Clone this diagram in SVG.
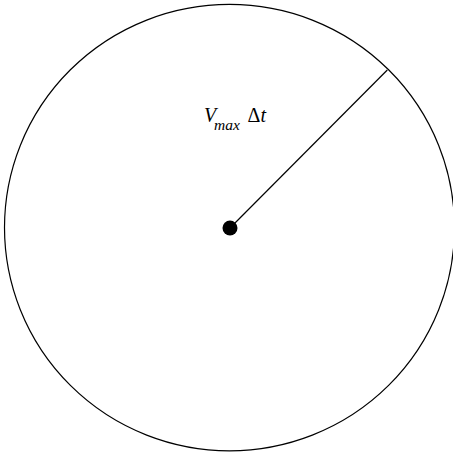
<svg xmlns="http://www.w3.org/2000/svg" width="453" height="455" viewBox="0 0 453 455">
<style>
.ln{fill:none;stroke:#000;stroke-width:1.2}
.t{font-family:"Liberation Serif",serif;font-style:italic;fill:#000}
</style>
<rect width="453" height="455" fill="#fff"/>
<g id="circle"><ellipse class="ln" cx="229.5" cy="227.6" rx="225" ry="223.2"/></g>
<g id="connectors"><line class="ln" x1="230" y1="228" x2="387.3" y2="70"/></g>
<g id="center"><circle cx="230" cy="228" r="7.5" fill="#000"/></g>
<g id="label">
<text class="t" x="204" y="122" font-size="20">V</text>
<text class="t" x="214" y="130" font-size="15.5">max</text>
<text x="247.5" y="122" font-size="20" font-family="Liberation Serif,serif">Δ<tspan font-style="italic">t</tspan></text>
</g>
</svg>
